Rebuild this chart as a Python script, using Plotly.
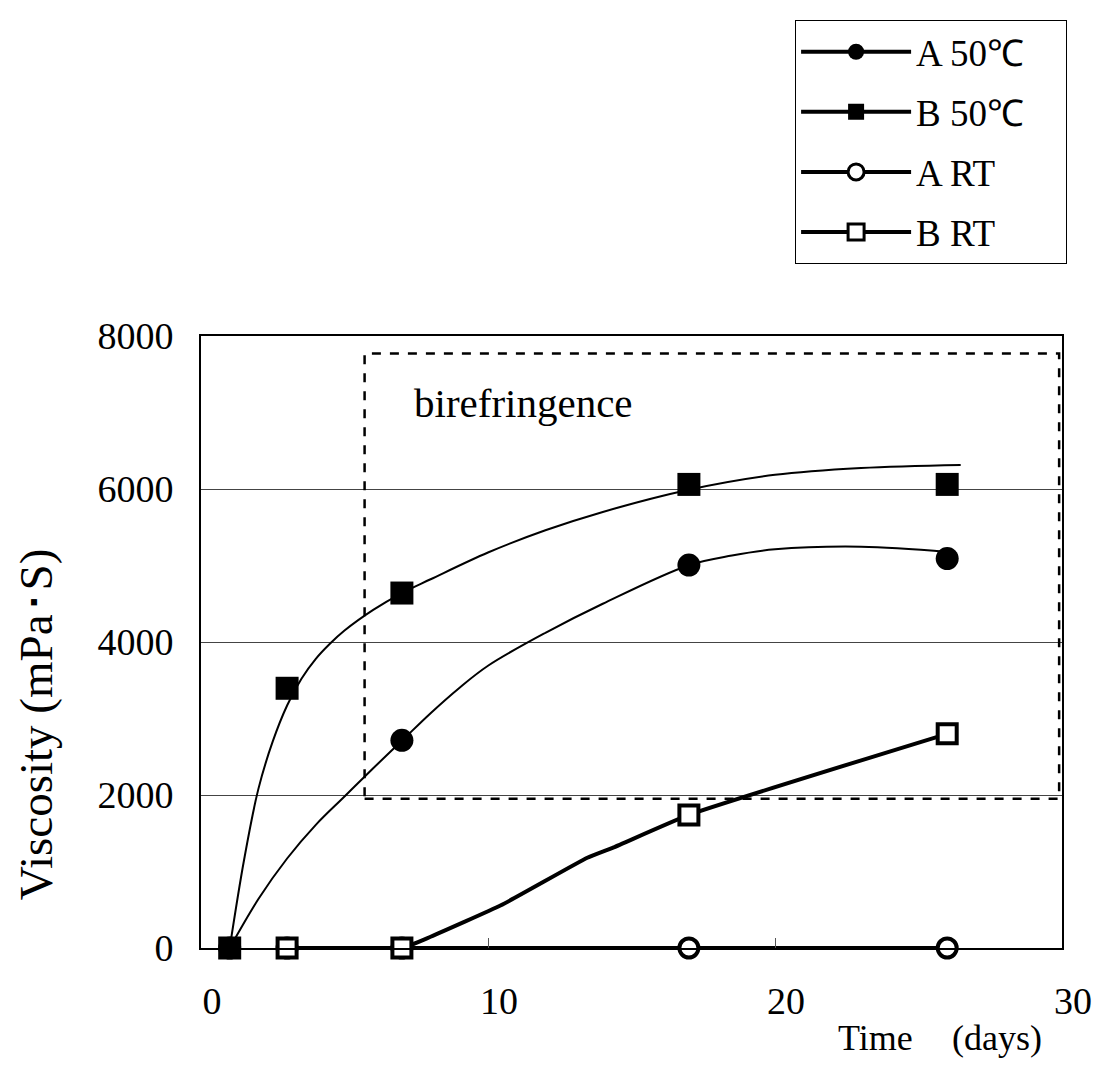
import plotly.graph_objects as go

# measured points
a50_x = [1, 7, 17, 26]
a50_y = [0, 2715, 5005, 5090]
b50_x = [1, 3, 7, 17, 26]
b50_y = [0, 3395, 4640, 6060, 6060]
art_x = [3, 7, 17, 26]
art_y = [0, 0, 0, 0]
brt_x = [3, 7, 17, 26]
brt_y = [0, 0, 1740, 2800]

# hand-drawn guide curves
b50_curve_x = [1.0, 1.5, 2.0, 2.5, 3.0, 3.5, 4.0, 4.5, 5.0, 6.0, 7.0, 8.0, 10.0, 12.0, 14.0, 17.0, 20.0, 23.0, 26.47]
b50_curve_y = [0, 1150, 2080, 2700, 3170, 3520, 3780, 3980, 4150, 4420, 4640, 4820, 5170, 5460, 5700, 5990, 6185, 6275, 6315]
a50_curve_x = [1.0, 2.0, 3.0, 4.0, 5.0, 6.0, 7.0, 8.0, 9.0, 10.0, 12.0, 14.0, 17.0, 18.5, 20.0, 23.0, 26.03]
a50_curve_y = [0, 640, 1170, 1610, 1980, 2350, 2710, 3070, 3400, 3690, 4120, 4500, 5004, 5130, 5211, 5246, 5178]
brt_curve_x = [3, 7, 8.0, 10.45, 13.46, 14.38, 17.0, 26.0]
brt_curve_y = [0, 0, 147, 558, 1180, 1316, 1740, 2800]
art_curve_x = [3, 26]
art_curve_y = [0, 0]

# birefringence region
bire_x = [5.7, 29.9]
bire_y = [1950, 7770]

names = ["A 50℃", "B 50℃", "A RT", "B RT"]
xticks = [0, 10, 20, 30]
yticks = [0, 2000, 4000, 6000, 8000]

FONT = "Liberation Serif, Times New Roman, serif"
K = "black"

fig = go.Figure()

# curves
fig.add_trace(go.Scatter(x=b50_curve_x, y=b50_curve_y, mode="lines", line=dict(color=K, width=2, shape="spline", smoothing=1.0), showlegend=False, hoverinfo="skip"))
fig.add_trace(go.Scatter(x=a50_curve_x, y=a50_curve_y, mode="lines", line=dict(color=K, width=2, shape="spline", smoothing=1.0), showlegend=False, hoverinfo="skip"))
fig.add_trace(go.Scatter(x=art_curve_x, y=art_curve_y, mode="lines", line=dict(color=K, width=4), showlegend=False, hoverinfo="skip"))
fig.add_trace(go.Scatter(x=brt_curve_x, y=brt_curve_y, mode="lines", line=dict(color=K, width=4, shape="spline", smoothing=0.4), showlegend=False, hoverinfo="skip"))

# markers
fig.add_trace(go.Scatter(x=a50_x, y=a50_y, mode="markers", marker=dict(symbol="circle", size=23, color=K), showlegend=False, cliponaxis=False))
fig.add_trace(go.Scatter(x=art_x, y=art_y, mode="markers", marker=dict(symbol="circle", size=19, color="white", line=dict(color=K, width=4)), showlegend=False, cliponaxis=False))
fig.add_trace(go.Scatter(x=brt_x, y=brt_y, mode="markers", marker=dict(symbol="square", size=19, color="white", line=dict(color=K, width=4)), showlegend=False, cliponaxis=False))
fig.add_trace(go.Scatter(x=b50_x, y=b50_y, mode="markers", marker=dict(symbol="square", size=23, color=K), showlegend=False, cliponaxis=False))

# legend entries
leg_markers = [
    dict(symbol="circle", size=22, color=K),
    dict(symbol="square", size=22, color=K),
    dict(symbol="circle", size=18, color="white", line=dict(color=K, width=3)),
    dict(symbol="square", size=18, color="white", line=dict(color=K, width=3)),
]
for i, (nm, mk) in enumerate(zip(names, leg_markers)):
    fig.add_trace(go.Scatter(x=[None], y=[None], mode="lines+markers", name=nm + "\u3000",
                             line=dict(color=K, width=4), marker=mk, legendgroup=str(i)))

fig.add_shape(type="rect", xref="x", yref="y", x0=bire_x[0], x1=bire_x[1], y0=bire_y[0], y1=bire_y[1],
              line=dict(color=K, width=2.5, dash="dash"), layer="between")

fig.add_annotation(x=7.35, y=7118, xref="x", yref="y", text="birefringence", showarrow=False,
                   xanchor="left", yanchor="middle", font=dict(family=FONT, size=41, color=K))
fig.add_annotation(x=-0.1915, y=0.366, xref="paper", yref="paper", text="Viscosity (mPa･S)", textangle=-90,
                   showarrow=False, xanchor="center", yanchor="middle", font=dict(family=FONT, size=47, color=K))
fig.add_annotation(x=0.737, y=-0.1475, xref="paper", yref="paper", text="Time", showarrow=False,
                   xanchor="left", yanchor="middle", font=dict(family=FONT, size=36, color=K))
fig.add_annotation(x=0.979, y=-0.1475, xref="paper", yref="paper", text="(days)", showarrow=False,
                   xanchor="right", yanchor="middle", font=dict(family=FONT, size=36, color=K))

fig.update_layout(
    width=1096, height=1076,
    margin=dict(l=193, r=36, t=323, b=136),
    paper_bgcolor="white", plot_bgcolor="white",
    font=dict(family=FONT, color=K),
    legend=dict(x=0.690, y=1.516, xanchor="left", yanchor="top", bordercolor=K, borderwidth=1,
                bgcolor="white", font=dict(family=FONT, size=37, color=K), itemwidth=110,
                traceorder="grouped", tracegroupgap=9),
    xaxis=dict(range=[0, 30], tickvals=xticks, ticks="inside", ticklen=10, tickcolor="#555",
               showgrid=False, zeroline=False, showline=True, linecolor=K, linewidth=2, mirror=True,
               tickfont=dict(family=FONT, size=38, color=K), ticklabelshift=11, ticklabelstandoff=18),
    yaxis=dict(range=[0, 8000], tickvals=yticks, ticks="", showgrid=True, gridcolor="#444", gridwidth=1,
               zeroline=False, showline=True, linecolor=K, linewidth=2, mirror=True,
               tickfont=dict(family=FONT, size=38, color=K), ticklabelstandoff=18),
)

fig.write_html("out.html")
